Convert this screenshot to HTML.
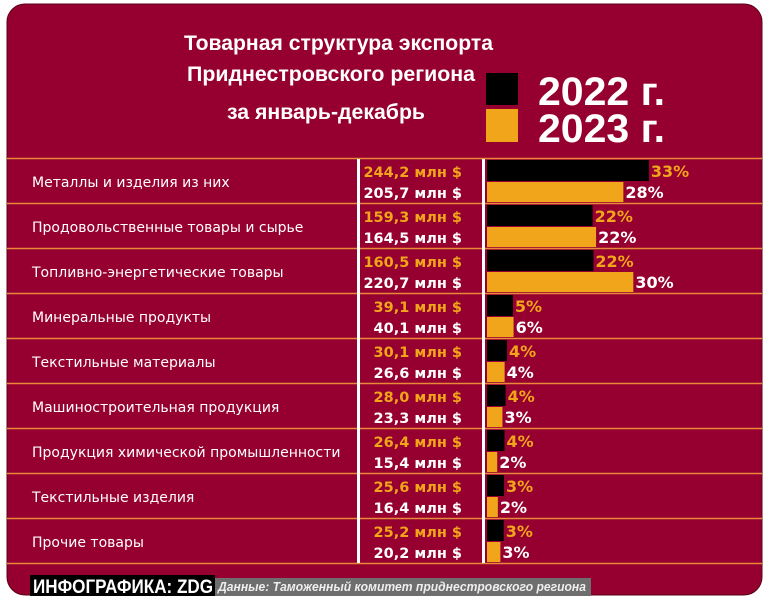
<!DOCTYPE html>
<html><head><meta charset="utf-8"><style>
html,body{margin:0;padding:0;background:#fff;width:768px;height:601px;overflow:hidden}
</style></head><body>
<svg width="768" height="601" viewBox="0 0 768 601" xmlns="http://www.w3.org/2000/svg">
<rect x="7" y="4" width="755" height="591" rx="18" ry="18" fill="#960030" stroke="#5a0018" stroke-width="1"/>
<g font-family="Liberation Sans, sans-serif" font-weight="bold" fill="#fff">
<text x="184" y="50" font-size="21" textLength="309" lengthAdjust="spacingAndGlyphs">Товарная структура экспорта</text>
<text x="187" y="81" font-size="21" textLength="288" lengthAdjust="spacingAndGlyphs">Приднестровского региона</text>
<text x="227" y="119" font-size="21" textLength="198" lengthAdjust="spacingAndGlyphs">за январь-декабрь</text>
</g>
<rect x="486" y="73" width="32" height="32" fill="#000"/>
<rect x="486" y="109" width="32" height="33" fill="#f0a51a"/>
<g font-family="Liberation Sans, sans-serif" font-weight="bold" fill="#fff" font-size="40">
<text x="538" y="105" textLength="127" lengthAdjust="spacingAndGlyphs">2022 г.</text>
<text x="538" y="142" textLength="127" lengthAdjust="spacingAndGlyphs">2023 г.</text>
</g>
<g stroke="#e88a3a" stroke-width="1.5">
<line x1="7" x2="762" y1="158.5" y2="158.5"/><line x1="7" x2="762" y1="203.5" y2="203.5"/>
<line x1="7" x2="762" y1="248.5" y2="248.5"/><line x1="7" x2="762" y1="293.5" y2="293.5"/>
<line x1="7" x2="762" y1="338.5" y2="338.5"/><line x1="7" x2="762" y1="383.5" y2="383.5"/>
<line x1="7" x2="762" y1="428.5" y2="428.5"/><line x1="7" x2="762" y1="473.5" y2="473.5"/>
<line x1="7" x2="762" y1="518.5" y2="518.5"/><line x1="7" x2="762" y1="563.5" y2="563.5"/>
</g>
<rect x="357" y="159" width="3" height="404" fill="#fff"/>
<rect x="482" y="159" width="3" height="404" fill="#fff"/>
<g id="rows" font-family="DejaVu Sans, sans-serif"></g>
<rect x="30" y="575" width="185" height="21" fill="#000"/>
<text x="33" y="593" font-family="Liberation Sans, sans-serif" font-weight="bold" font-size="19" fill="#fff" textLength="180" lengthAdjust="spacingAndGlyphs">ИНФОГРАФИКА: ZDG</text>
<rect x="215" y="578" width="376" height="18" fill="#6e6e6e"/>
<text x="218" y="591" font-family="Liberation Sans, sans-serif" font-style="italic" font-weight="bold" font-size="13" fill="#eee" textLength="368" lengthAdjust="spacingAndGlyphs">Данные: Таможенный комитет приднестровского региона</text>
</svg>
<script>
var d=[["Металлы и изделия из них","244,2",244.2,33,"205,7",205.7,28],
["Продовольственные товары и сырье","159,3",159.3,22,"164,5",164.5,22],
["Топливно-энергетические товары","160,5",160.5,22,"220,7",220.7,30],
["Минеральные продукты","39,1",39.1,5,"40,1",40.1,6],
["Текстильные материалы","30,1",30.1,4,"26,6",26.6,4],
["Машиностроительная продукция","28,0",28.0,4,"23,3",23.3,3],
["Продукция химической промышленности","26,4",26.4,4,"15,4",15.4,2],
["Текстильные изделия","25,6",25.6,3,"16,4",16.4,2],
["Прочие товары","25,2",25.2,3,"20,2",20.2,3]];
var s="",k=0.663;
d.forEach(function(r,i){var t=159+45*i;
s+='<text x="32" y="'+(t+28)+'" font-size="14" fill="#fff">'+r[0]+'</text>';
s+='<text x="462" y="'+(t+18)+'" font-size="14.5" font-weight="bold" fill="#f0a51a" text-anchor="end">'+r[1]+' млн $</text>';
s+='<text x="462" y="'+(t+39)+'" font-size="14.5" font-weight="bold" fill="#fff" text-anchor="end">'+r[4]+' млн $</text>';
var w1=r[2]*k,w2=r[5]*k;
s+='<rect x="487" y="'+(t+1)+'" width="'+w1+'" height="21" fill="#000"/>';
s+='<rect x="487" y="'+(t+23)+'" width="'+w2+'" height="20" fill="#f0a51a"/>';
s+='<text x="'+(489+w1)+'" y="'+(t+18)+'" font-size="16" font-weight="bold" fill="#f0a51a">'+r[3]+'%</text>';
s+='<text x="'+(489+w2)+'" y="'+(t+39)+'" font-size="16" font-weight="bold" fill="#fff">'+r[6]+'%</text>';
});
document.getElementById("rows").innerHTML=s;
</script>
</body></html>
